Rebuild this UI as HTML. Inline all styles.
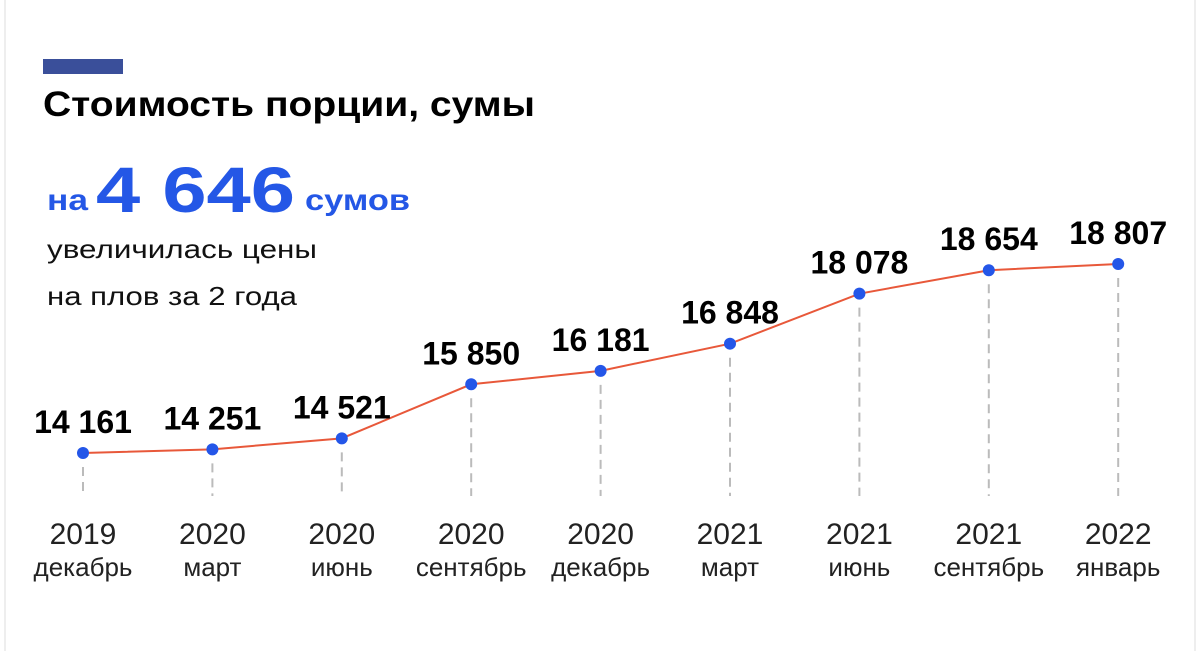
<!DOCTYPE html>
<html><head><meta charset="utf-8"><style>
html,body{margin:0;padding:0;background:#fff;}
body{width:1200px;height:651px;overflow:hidden;position:relative;font-family:"Liberation Sans",sans-serif;}
.frame{position:absolute;left:4px;top:0;width:1192px;height:651px;border-left:2px solid #eee;border-right:2px solid #eee;box-sizing:border-box;}
</style></head><body>
<div class="frame"></div>
<svg width="1200" height="651" style="position:absolute;left:0;top:0">
<rect x="43" y="59" width="80" height="15" fill="#3a4f9a"/>
<text x="43" y="116" font-size="35" font-weight="bold" fill="#000" textLength="492" lengthAdjust="spacingAndGlyphs">Стоимость порции, сумы</text>
<text x="47" y="210" font-size="30" font-weight="bold" fill="#2457e6" textLength="41" lengthAdjust="spacingAndGlyphs">на</text>
<text x="96" y="212" font-size="64" font-weight="bold" fill="#2457e6" textLength="199" lengthAdjust="spacingAndGlyphs">4 646</text>
<text x="305" y="210" font-size="30" font-weight="bold" fill="#2457e6" textLength="105" lengthAdjust="spacingAndGlyphs">сумов</text>
<text x="47" y="258" font-size="26" fill="#111" textLength="270" lengthAdjust="spacingAndGlyphs">увеличилась цены</text>
<text x="47" y="305" font-size="26" fill="#111" textLength="250" lengthAdjust="spacingAndGlyphs">на плов за 2 года</text>
<g id="plot"></g>
</svg>
<script>
const years=["2019","2020","2020","2020","2020","2021","2021","2021","2022"];
const months=["декабрь","март","июнь","сентябрь","декабрь","март","июнь","сентябрь","январь"];
const values=[14161,14251,14521,15850,16181,16848,18078,18654,18807];
const valueLabels=["14 161","14 251","14 521","15 850","16 181","16 848","18 078","18 654","18 807"];
const NS="http://www.w3.org/2000/svg";
const g=document.getElementById('plot');
function xPos(i){return 83+i*129.4;}
function yPos(v){return 453-(v-14161)*(189/4646);}
function mk(t,a){const e=document.createElementNS(NS,t);for(const k in a)e.setAttribute(k,a[k]);g.appendChild(e);return e;}
values.forEach((v,i)=>{
  const l=mk('line',{x1:xPos(i),x2:xPos(i),y1:yPos(v)+14,y2:496,stroke:'#bbb','stroke-width':2,'stroke-dasharray':'9 6'});
  
  
});
const pts=values.map((v,i)=>xPos(i)+','+yPos(v)).join(' ');
const pl=mk('polyline',{points:pts,fill:'none',stroke:'#e8583a','stroke-width':2});


values.forEach((v,i)=>{
  const c=mk('circle',{cx:xPos(i),cy:yPos(v),r:6,fill:'#2456e8'});
  
  
  const t=mk('text',{x:xPos(i),y:yPos(v)-20,'text-anchor':'middle','font-size':32,'font-weight':'bold',fill:'#000'});
  t.textContent=valueLabels[i];
  
  
  const y=mk('text',{x:xPos(i),y:544,'text-anchor':'middle','font-size':30,fill:'#222'});
  y.textContent=years[i];
  
  
  const m=mk('text',{x:xPos(i),y:576,'text-anchor':'middle','font-size':26,fill:'#222'});
  m.textContent=months[i];
  
  
});
</script>
</body></html>
